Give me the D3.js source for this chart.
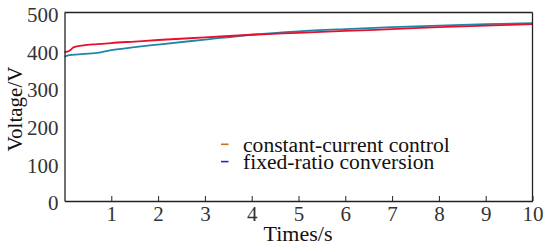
<!DOCTYPE html>
<html><head><meta charset="utf-8">
<script src="https://cdn.jsdelivr.net/npm/d3@7"></script>
<style>body{margin:0;background:#fff}svg{display:block}</style>
</head><body><svg id="c" width="550" height="246"></svg>
<script>
const xTicks = [1,2,3,4,5,6,7,8,9,10];
const yTicks = [0,100,200,300,400,500];
const timeCC = [0,0.1,0.2,0.4,0.7,1,1.5,2,3,4,5,6,7,8,9,10];
const voltCC = [395,398,408,413,416,419,423,427,434,441,446,451,456,461,465,469];
const timeFR = [0,0.1,0.3,0.7,1,1.5,2,3,4,5,6,7,8,9,10];
const voltFR = [383,387,389,393,400,408,415,428,441,450,456,461,465,469,472];
const legendLabels = ["constant-current control","fixed-ratio conversion"];
const legendColors = ["#c0702a","#2a2ab8"];
const lineColors = ["#e8102e","#1f86a8"];
const FONT = "'Liberation Serif','Times New Roman',Times,serif";

const svg = d3.select("#c");
const x = d3.scaleLinear().domain([0,10]).range([64.5,532.5]);
const y = d3.scaleLinear().domain([0,500]).range([201,12.5]);

const line = d3.line().x(d=>x(d[0])).y(d=>y(d[1])).curve(d3.curveMonotoneX);
svg.append("path").datum(timeFR.map((t,i)=>[t,voltFR[i]]))
  .attr("d",line).attr("fill","none").attr("stroke",lineColors[1]).attr("stroke-width",1.8);
svg.append("path").datum(timeCC.map((t,i)=>[t,voltCC[i]]))
  .attr("d",line).attr("fill","none").attr("stroke",lineColors[0]).attr("stroke-width",1.8);

// frame
svg.append("line").attr("x1",x(0)).attr("x2",x(10)).attr("y1",y(500)).attr("y2",y(500)).attr("stroke","#222").attr("stroke-width",1.3);
svg.append("line").attr("x1",x(10)).attr("x2",x(10)).attr("y1",y(500)).attr("y2",y(0)).attr("stroke","#222").attr("stroke-width",1.3);

const xa = svg.append("g").attr("transform",`translate(0,${y(0)})`)
  .call(d3.axisBottom(x).tickValues(xTicks).tickSizeInner(-5).tickSizeOuter(0).tickPadding(5));
xa.attr("font-family",FONT).attr("font-size",21);
xa.select(".domain").attr("stroke","#222").attr("stroke-width",1.3);
xa.selectAll(".tick line").attr("stroke","#222");
xa.selectAll("text").attr("fill","#333");

const ya = svg.append("g").attr("transform",`translate(${x(0)},0)`)
  .call(d3.axisLeft(y).tickValues(yTicks).tickSize(0).tickPadding(6));
ya.attr("font-family",FONT).attr("font-size",21);
ya.select(".domain").attr("stroke","#222").attr("stroke-width",1.3);
ya.selectAll("text").attr("fill","#333").attr("dy","0.42em");

svg.append("text").attr("x",298).attr("y",241).attr("text-anchor","middle")
  .attr("font-family",FONT).attr("font-size",22).attr("fill","#111").text("Times/s");
svg.append("text").attr("transform","translate(22,109) rotate(-90)").attr("text-anchor","middle")
  .attr("font-family",FONT).attr("font-size",21).attr("fill","#111").text("Voltage/V");

legendLabels.forEach((lab,i)=>{
  const base = 151.7 + i*17.3;
  svg.append("line").attr("x1",221).attr("x2",228.5).attr("y1",base-7.4).attr("y2",base-7.4)
    .attr("stroke",legendColors[i]).attr("stroke-width",1.6);
  svg.append("text").attr("x",243).attr("y",base).attr("font-family",FONT).attr("font-size",21.6)
    .attr("fill","#111").text(lab);
});
</script></body></html>
